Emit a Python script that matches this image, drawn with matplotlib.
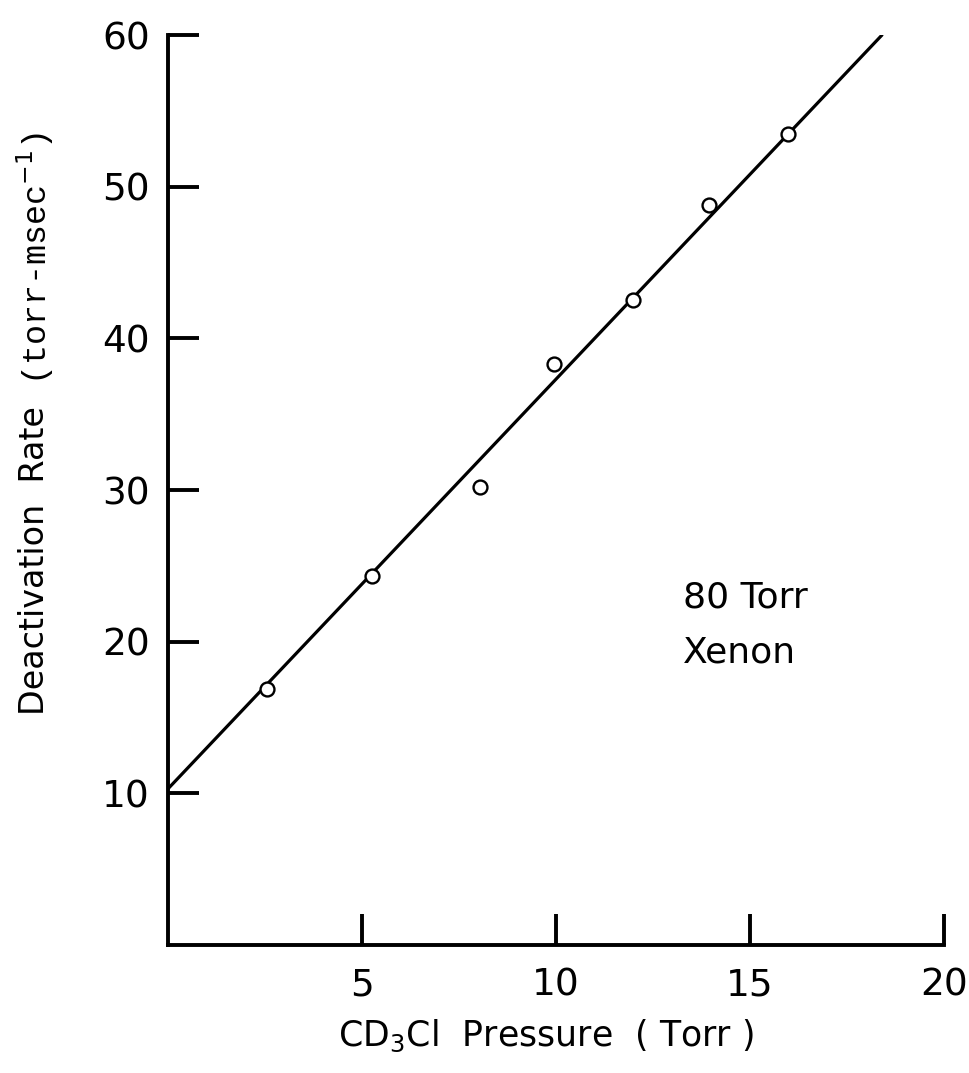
import matplotlib
matplotlib.use("Agg")
import matplotlib.pyplot as plt

# measured points
pressure = [2.55, 5.25, 8.05, 9.95, 11.98, 13.95, 15.98]
rate = [16.9, 24.3, 30.2, 38.3, 42.5, 48.8, 53.5]

# straight line fit drawn on the figure
fit_x = [0.0, 18.4]
fit_y = [10.3, 60.0]

xticks = [5, 10, 15, 20]
yticks = [10, 20, 30, 40, 50, 60]

plt.rcParams['font.family'] = ['DejaVu Sans']

fig = plt.figure(figsize=(9.7, 10.73), dpi=100)
ax = fig.add_axes([0.1732, 0.1193, 0.8, 0.848])

ax.plot(fit_x, fit_y, color='black', lw=2.3, solid_capstyle='round')
ax.plot(pressure, rate, 'o', ms=10, mfc='white', mec='black', mew=1.7)

ax.set_xlim(0, 20)
ax.set_ylim(0, 60)
ax.set_xticks(xticks)
ax.set_yticks(yticks)
ax.spines['top'].set_visible(False)
ax.spines['right'].set_visible(False)
for s in ('left', 'bottom'):
    ax.spines[s].set_linewidth(2.8)
ax.tick_params(direction='in', length=22, width=2.8, labelsize=27)
ax.tick_params(axis='y', pad=13)
ax.tick_params(axis='x', pad=16)

ax.text(13.27, 22.27, '80 Torr', fontsize=26, va='baseline')
ax.text(13.27, 18.64, 'Xenon', fontsize=26, va='baseline')

fig.text(0.563, 0.025, r'CD$_3$Cl  Pressure  ( Torr )', fontsize=25, ha='center')

fig.text(0.036, 0.3336, 'Deactivation  Rate', rotation=90, fontsize=24,
         ha='center', va='bottom')
fig.text(0.036, 0.641, r'(torr-msec$^{-1}$)', rotation=90, fontsize=24,
         family='Liberation Mono', ha='center', va='bottom')

fig.savefig('out.png', dpi=100)
